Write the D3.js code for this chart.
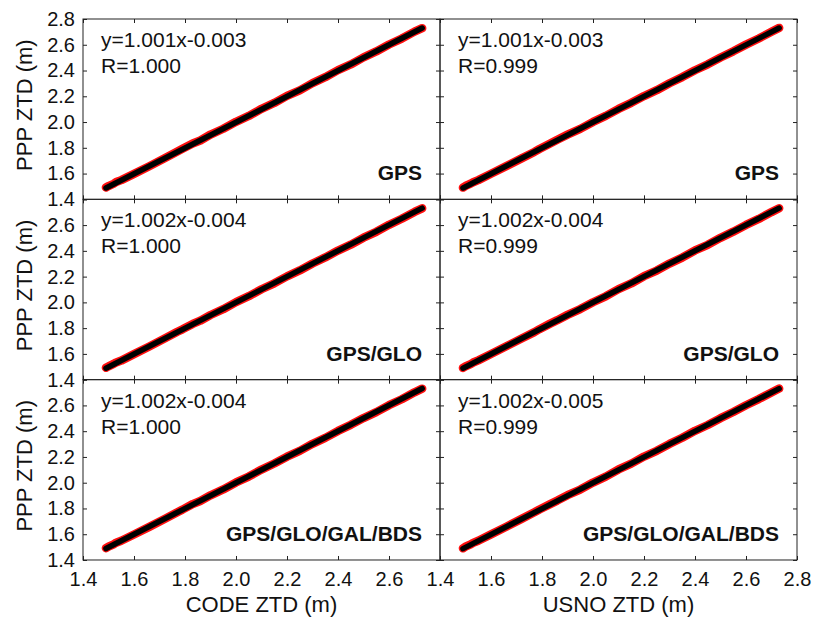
<!DOCTYPE html>
<html>
<head>
<meta charset="utf-8">
<script src="https://cdn.jsdelivr.net/npm/d3@7"></script>
<style>
  body { margin: 0; background: #fff; }
  svg { display: block; font-family: "Liberation Sans", Arial, sans-serif; }
</style>
</head>
<body>
<svg id="chart" width="814" height="619"></svg>
<script>
// Reference products (columns) and PPP solution modes (rows)
const references = ["CODE", "USNO"];
const modes = ["GPS", "GPS/GLO", "GPS/GLO/GAL/BDS"];

// Regression results per panel, row-major: [mode][reference]
const slopes = [[1.001, 1.001], [1.002, 1.002], [1.002, 1.002]];
const intercepts = [[-0.003, -0.003], [-0.004, -0.004], [-0.004, -0.005]];
const corr = [[1.000, 0.999], [1.000, 0.999], [1.000, 0.999]];

// ZTD range covered by the samples (m)
const ztdMin = 1.49;
const ztdMax = 2.73;

// Sampled reference ZTD (m) along the scatter cloud
const refZtd = [1.49, 1.50, 1.52, 1.53, 1.55, 1.60, 1.66, 1.72, 1.77, 1.79, 1.83, 1.86, 1.90,
                1.95, 2.00, 2.05, 2.10, 2.15, 2.20, 2.25, 2.30, 2.35, 2.40, 2.45, 2.50,
                2.55, 2.60, 2.65, 2.70, 2.73];
// Matching PPP ZTD (m) for each panel, row-major
const pppZtd = [
  [1.492, 1.503, 1.521, 1.534, 1.549, 1.598, 1.657, 1.719, 1.771, 1.792, 1.834, 1.857, 1.903,
   1.948, 2.002, 2.047, 2.103, 2.148, 2.203, 2.246, 2.302, 2.348, 2.403, 2.447, 2.502,
   2.548, 2.602, 2.648, 2.702, 2.729],
  [1.491, 1.504, 1.522, 1.533, 1.549, 1.599, 1.658, 1.718, 1.768, 1.791, 1.832, 1.863, 1.902,
   1.947, 2.001, 2.048, 2.102, 2.149, 2.202, 2.247, 2.301, 2.349, 2.402, 2.448, 2.501,
   2.549, 2.601, 2.649, 2.701, 2.731],
  [1.492, 1.503, 1.522, 1.534, 1.548, 1.598, 1.658, 1.719, 1.772, 1.791, 1.833, 1.858, 1.902,
   1.947, 2.002, 2.048, 2.102, 2.148, 2.202, 2.248, 2.302, 2.349, 2.402, 2.448, 2.502,
   2.548, 2.602, 2.649, 2.702, 2.730],
  [1.491, 1.503, 1.521, 1.533, 1.550, 1.599, 1.659, 1.719, 1.769, 1.792, 1.833, 1.862, 1.903,
   1.948, 2.001, 2.047, 2.103, 2.147, 2.203, 2.247, 2.301, 2.348, 2.403, 2.447, 2.501,
   2.549, 2.601, 2.648, 2.701, 2.731],
  [1.492, 1.504, 1.522, 1.534, 1.549, 1.598, 1.657, 1.718, 1.771, 1.791, 1.834, 1.858, 1.902,
   1.948, 2.002, 2.048, 2.102, 2.149, 2.202, 2.247, 2.302, 2.348, 2.402, 2.449, 2.502,
   2.548, 2.602, 2.648, 2.702, 2.730],
  [1.491, 1.503, 1.521, 1.533, 1.549, 1.599, 1.658, 1.719, 1.770, 1.792, 1.832, 1.861, 1.903,
   1.947, 2.001, 2.047, 2.103, 2.148, 2.203, 2.248, 2.301, 2.349, 2.403, 2.448, 2.501,
   2.549, 2.601, 2.649, 2.701, 2.731]
];

// Axis ticks
const tickValues = [1.4, 1.6, 1.8, 2.0, 2.2, 2.4, 2.6, 2.8];
const axisDomain = [1.4, 2.8];

// Layout
const gridLeft = 83, gridTop = 19, panelW = 357, panelH = 180.33;
const axisColor = "#222";

const svg = d3.select("#chart");

const fmtCoef = (a, b) => `y=${a.toFixed(3)}x${b < 0 ? "-" : "+"}${Math.abs(b).toFixed(3)}`;

modes.forEach((mode, r) => {
  references.forEach((ref, c) => {
    const x0 = gridLeft + c * panelW;
    const y0 = gridTop + r * panelH;
    const x = d3.scaleLinear().domain(axisDomain).range([x0, x0 + panelW]);
    const y = d3.scaleLinear().domain(axisDomain).range([y0 + panelH, y0]);
    const g = svg.append("g");

    // scatter cloud
    const pts = refZtd.map((v, i) => [v, pppZtd[r * 2 + c][i]]);
    g.append("path")
      .datum(pts)
      .attr("d", d3.line().x(d => x(d[0])).y(d => y(d[1])))
      .attr("fill", "none")
      .attr("stroke", "#ff1010")
      .attr("stroke-width", 8.5)
      .attr("stroke-linecap", "round")
      .attr("stroke-linejoin", "round");
    g.selectAll("rect.pt")
      .data(pts)
      .join("rect")
      .attr("class", "pt")
      .attr("x", d => x(d[0]) - 2.5)
      .attr("y", d => y(d[1]) - 2.5)
      .attr("width", 5).attr("height", 5)
      .attr("fill", "#ff1010");

    // regression line
    const a = slopes[r][c], b = intercepts[r][c];
    g.append("path")
      .datum([ztdMin, ztdMax])
      .attr("d", d3.line().x(d => x(d)).y(d => y(a * d + b)))
      .attr("fill", "none")
      .attr("stroke", "#000")
      .attr("stroke-width", 5.5)
      .attr("stroke-linecap", "round");

    // inward ticks on all four sides
    const showX = r === modes.length - 1;
    const showY = c === 0;
    const xLab = d => (showX && !(c === 0 && d === 2.8)) ? d.toFixed(1) : "";
    const yLab = d => (showY && !(r > 0 && d === 2.8)) ? d.toFixed(1) : "";

    const axes = [
      [d3.axisBottom(x).tickFormat(xLab).tickPadding(12), `translate(0,${y0 + panelH})`],
      [d3.axisTop(x).tickFormat(""), `translate(0,${y0})`],
      [d3.axisLeft(y).tickFormat(yLab).tickPadding(8), `translate(${x0},0)`],
      [d3.axisRight(y).tickFormat(""), `translate(${x0 + panelW},0)`]
    ];
    axes.forEach(([ax, tr]) => {
      const ag = g.append("g")
        .attr("transform", tr)
        .call(ax.tickValues(tickValues).tickSize(-4));
      ag.select(".domain").remove();
      ag.selectAll("line").attr("stroke", axisColor);
      ag.selectAll("text")
        .attr("font-size", 20)
        .attr("fill", "#111")
        .attr("font-family", "'Liberation Sans', Arial, sans-serif");
    });

    // panel frame
    g.append("rect")
      .attr("x", x0).attr("y", y0)
      .attr("width", panelW).attr("height", panelH)
      .attr("fill", "none")
      .attr("stroke", axisColor)
      .attr("stroke-width", 1);

    // regression annotation
    g.append("text")
      .attr("x", x0 + 18).attr("y", y0 + 28)
      .attr("font-size", 21).attr("fill", "#111")
      .text(fmtCoef(a, b));
    g.append("text")
      .attr("x", x0 + 18).attr("y", y0 + 54)
      .attr("font-size", 21).attr("fill", "#111")
      .text(`R=${corr[r][c].toFixed(3)}`);

    // solution mode label
    g.append("text")
      .attr("x", x0 + panelW - 18).attr("y", y0 + panelH - 19)
      .attr("text-anchor", "end")
      .attr("font-size", 21).attr("font-weight", "bold").attr("fill", "#111")
      .text(mode);
  });

  // row axis title
  const cy = gridTop + r * panelH + panelH / 2 - 4;
  svg.append("text")
    .attr("transform", `translate(32,${cy}) rotate(-90)`)
    .attr("text-anchor", "middle")
    .attr("font-size", 22).attr("fill", "#111")
    .text("PPP ZTD (m)");
});

// column axis titles
references.forEach((ref, c) => {
  svg.append("text")
    .attr("x", gridLeft + c * panelW + panelW / 2)
    .attr("y", 612)
    .attr("text-anchor", "middle")
    .attr("font-size", 22).attr("fill", "#111")
    .text(`${ref} ZTD (m)`);
});
</script>
</body>
</html>
